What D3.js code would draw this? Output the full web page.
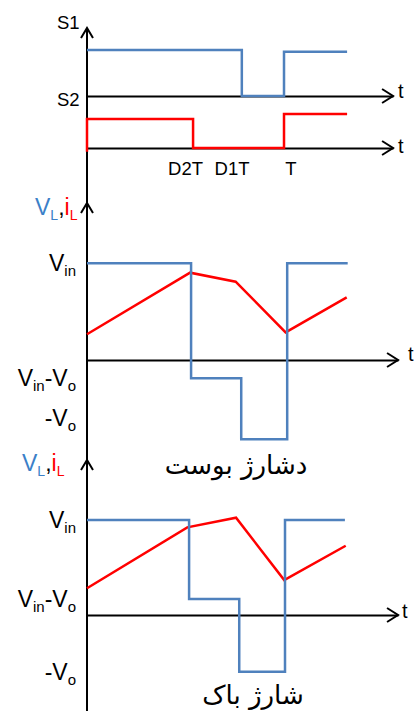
<!DOCTYPE html>
<html>
<head>
<meta charset="utf-8">
<script src="https://cdn.jsdelivr.net/npm/d3@7"></script>
<style>
  html, body { margin: 0; padding: 0; background: #fff; }
  svg { display: block; }
  text { font-family: "Liberation Sans", Arial, sans-serif; }
  .fa { font-family: "DejaVu Sans", "Noto Sans", sans-serif; }
</style>
</head>
<body>
<svg id="chart" width="416" height="711"></svg>
<script>
// ---- switching signals (time in units of the period T) ----
const s1Times  = [0, 0.778, 0.99, 1.307];
const s1Values = [1.885, 1, 1.852, 1.852];
const s2Times  = [0, 0.533, 0.99, 1.307];
const s2Values = [0.558, 0, 0.654, 0.654];
const s2Start  = -0.07;

// ---- boost charge: inductor voltage and current ----
const boostVTimes  = [0, 0.523, 0.775, 1.006, 1.31];
const boostVValues = [1, -0.19, -0.82, 1, 1];
const boostITimes  = [0, 0.518, 0.747, 0.998, 1.305];
const boostIValues = [0.266, 0.903, 0.81, 0.286, 0.648];

// ---- buck charge: inductor voltage and current ----
const buckVTimes  = [0, 0.513, 0.765, 0.995, 1.296];
const buckVValues = [1, 0.168, -0.597, 1, 1];
const buckITimes  = [0, 0.504, 0.749, 0.991, 1.30];
const buckIValues = [0.281, 0.923, 1.024, 0.368, 0.729];

// ---- labels ----
const timeLabels     = ["D2T", "D1T", "T"];
const timeLabelAt    = [0.495, 0.729, 1.025];
const boostLevelAt   = [1, -0.19, -0.6];
const buckLevelAt    = [1, 0.168, -0.597];
const levelLabels    = [["V", "in"], ["V", "in", "-V", "o"], ["-V", "o"]];
const titleBoost = "دشارژ بوست";
const titleBuck  = "شارژ باک";

const BLUE = "#4f81bd", RED = "#ff0000", TXTBLUE = "#3b80c8";

const svg = d3.select("#chart");
const x = d3.scaleLinear().domain([0, 1]).range([87, 286]);
const yTop = d3.scaleLinear().domain([0, 1]).range([148, 96]);
const yMid = d3.scaleLinear().domain([0, 1]).range([360, 263.3]);
const yBot = d3.scaleLinear().domain([0, 1]).range([615, 520]);

// horizontal time axes (no ticks), with an open arrowhead at the end
function timeAxis(yPos, endT, labelDx, labelDy) {
  const sc = d3.scaleLinear().domain([0, endT]).range([x(0), x(endT)]);
  const g = svg.append("g").attr("transform", `translate(0,${yPos})`)
    .call(d3.axisBottom(sc).tickValues([]).tickSizeOuter(0));
  g.select(".domain").attr("stroke", "#000").attr("stroke-width", 2);
  const xe = x(endT);
  svg.append("path")
    .attr("d", `M${xe - 11},${yPos - 7}L${xe},${yPos}L${xe - 11},${yPos + 7}`)
    .attr("fill", "none").attr("stroke", "#000").attr("stroke-width", 2);
  svg.append("text").attr("x", xe + labelDx).attr("y", yPos + labelDy)
    .attr("font-size", 20).text("t");
}

// vertical axis running the full height with three arrowheads
svg.append("line").attr("x1", 87).attr("x2", 87).attr("y1", 28).attr("y2", 711)
  .attr("stroke", "#000").attr("stroke-width", 2);
[28, 203, 460].forEach(tip => {
  svg.append("path")
    .attr("d", `M81,${tip + 10}L87,${tip}L93,${tip + 10}`)
    .attr("fill", "none").attr("stroke", "#000").attr("stroke-width", 2);
});

timeAxis(yTop(1), 1.538, 5, 2);
timeAxis(yTop(0), 1.538, 5, 5);
timeAxis(yMid(0), 1.563, 10, 1);
timeAxis(yBot(0), 1.563, 4, 3);

const step = (ts, vs, ys) => d3.line().curve(d3.curveStepAfter)
  .x((d, i) => x(ts[i])).y(d => ys(d))(vs);
const poly = (ts, vs, ys) => d3.line()
  .x((d, i) => x(ts[i])).y(d => ys(d))(vs);

// ---- top panel: gate signals ----
svg.append("text").attr("x", 57).attr("y", 29).attr("font-size", 18.5).text("S1");
svg.append("text").attr("x", 57).attr("y", 106).attr("font-size", 18.5).text("S2");

svg.append("path").attr("d", step(s1Times, s1Values, yTop))
  .attr("fill", "none").attr("stroke", BLUE).attr("stroke-width", 2.5);
svg.append("path")
  .attr("d", `M${x(0)},${yTop(s2Start)}L` + step(s2Times, s2Values, yTop).slice(1))
  .attr("fill", "none").attr("stroke", RED).attr("stroke-width", 2.5);

svg.selectAll(".tlab").data(timeLabels).join("text")
  .attr("x", (d, i) => x(timeLabelAt[i])).attr("y", 175)
  .attr("text-anchor", "middle").attr("font-size", 18.5).text(d => d);

// ---- shared pieces for the V_L / i_L panels ----
function panelTitle(yPos) {
  const t = svg.append("text").attr("y", yPos).attr("font-size", 23);
  const parts = [["V", TXTBLUE, 0, 23], ["L", TXTBLUE, 5, 14], [",", "#000", -5, 23],
                 ["i", RED, 0, 23], ["L", RED, 5, 14]];
  let xPos = null;
  parts.forEach((p, i) => {
    const ts = t.append("tspan").attr("fill", p[1]).attr("font-size", p[3]).text(p[0]);
    if (i === 0) ts.attr("x", yPos > 400 ? 22 : 35);
    ts.attr("dy", p[2]);
  });
}

function levelLabel(yPos, parts) {
  const t = svg.append("text").attr("x", 76).attr("y", yPos + 8)
    .attr("text-anchor", "end").attr("font-size", 23);
  parts.forEach((p, i) => {
    const sub = i % 2 === 1;
    t.append("tspan").attr("font-size", sub ? 15 : 23)
      .attr("dy", i === 0 ? 0 : (sub ? 5 : -5)).text(p);
  });
}

function currentVoltagePanel(ys, vT, vV, iT, iV, levels) {
  svg.append("path").attr("d", poly(iT, iV, ys))
    .attr("fill", "none").attr("stroke", RED).attr("stroke-width", 2.5);
  svg.append("path").attr("d", step(vT, vV, ys))
    .attr("fill", "none").attr("stroke", BLUE).attr("stroke-width", 2.5);
  levels.forEach((lv, i) => levelLabel(ys(lv), levelLabels[i]));
}

// ---- boost charge ----
panelTitle(215);
currentVoltagePanel(yMid, boostVTimes, boostVValues, boostITimes, boostIValues, boostLevelAt);

// ---- buck charge ----
panelTitle(471);
currentVoltagePanel(yBot, buckVTimes, buckVValues, buckITimes, buckIValues, buckLevelAt);

svg.append("text").attr("class", "fa").attr("x", 236).attr("y", 474)
  .attr("text-anchor", "middle").attr("font-size", 26).attr("direction", "rtl")
  .text(titleBoost);
svg.append("text").attr("class", "fa").attr("x", 253).attr("y", 704)
  .attr("text-anchor", "middle").attr("font-size", 26).attr("direction", "rtl")
  .text(titleBuck);
</script>
</body>
</html>
